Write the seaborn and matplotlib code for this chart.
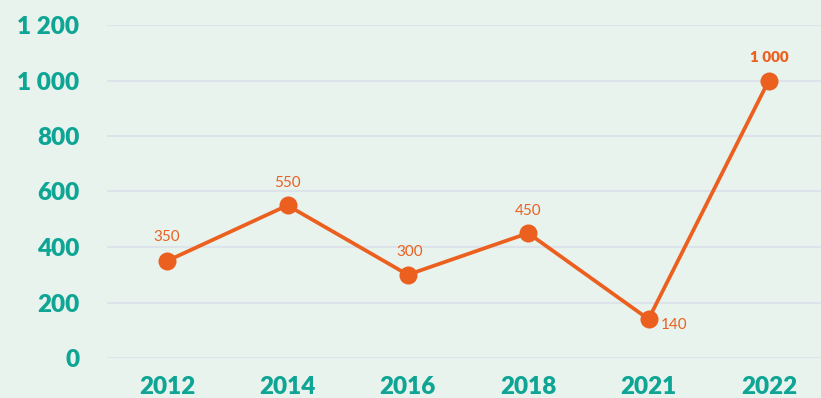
import matplotlib
matplotlib.use("Agg")
import matplotlib.pyplot as plt
import seaborn as sns
import pandas as pd
from matplotlib.ticker import FuncFormatter

years = ["2012", "2014", "2016", "2018", "2021", "2022"]
values = [350, 550, 300, 450, 140, 1000]
y_ticks = [0, 200, 400, 600, 800, 1000, 1200]

BG = "#E8F3EE"
GRID = "#DCE3EA"
TEAL = "#0EA594"
ORANGE = "#EC601F"

sns.set_theme(style="white")
plt.rcParams["font.family"] = ["Lato", "DejaVu Sans"]

df = pd.DataFrame({"year": years, "value": values})

fig = plt.figure(figsize=(8.21, 3.98), dpi=100)
fig.patch.set_facecolor(BG)
ax = fig.add_axes([107 / 821, 40 / 398, 722 / 821, 333 / 398])
ax.set_facecolor(BG)

sns.lineplot(data=df, x="year", y="value", ax=ax, color=ORANGE, linewidth=2.7,
             marker="o", markersize=13, markeredgewidth=0, sort=False)
for line in ax.lines:
    line.set_clip_on(False)

ax.set_xlim(-0.5, len(years) - 0.5)
ax.set_ylim(0, 1200)
ax.set_yticks(y_ticks)
ax.yaxis.set_major_formatter(FuncFormatter(lambda v, p: f"{int(v):,}".replace(",", " ")))
ax.grid(axis="y", color=GRID, linewidth=1.5)
ax.set_axisbelow(True)
for s in ax.spines.values():
    s.set_visible(False)
ax.tick_params(axis="y", length=0, pad=20, labelsize=17.5, labelcolor=TEAL)
ax.tick_params(axis="x", length=0, pad=13, labelsize=17.5, labelcolor=TEAL)
for lab in ax.get_xticklabels() + ax.get_yticklabels():
    lab.set_fontweight("heavy")
ax.set_xlabel("")
ax.set_ylabel("")

# value labels: (dx, dy) offsets in points, alignment
offsets = {
    "2012": (0, 12, "center", "bottom"),
    "2014": (0, 11, "center", "bottom"),
    "2016": (1, 11, "center", "bottom"),
    "2018": (0, 11, "center", "bottom"),
    "2021": (9, -4, "left", "center"),
    "2022": (0, 12, "center", "bottom"),
}
for i, (yr, v) in enumerate(zip(years, values)):
    dx, dy, ha, va = offsets[yr]
    txt = f"{v:,}".replace(",", " ")
    ax.annotate(txt, (i, v), xytext=(dx, dy), textcoords="offset points",
                ha=ha, va=va, color=ORANGE, fontsize=11,
                fontweight="heavy" if v == max(values) else "normal")

fig.savefig("out.png", dpi=100, facecolor=BG)
